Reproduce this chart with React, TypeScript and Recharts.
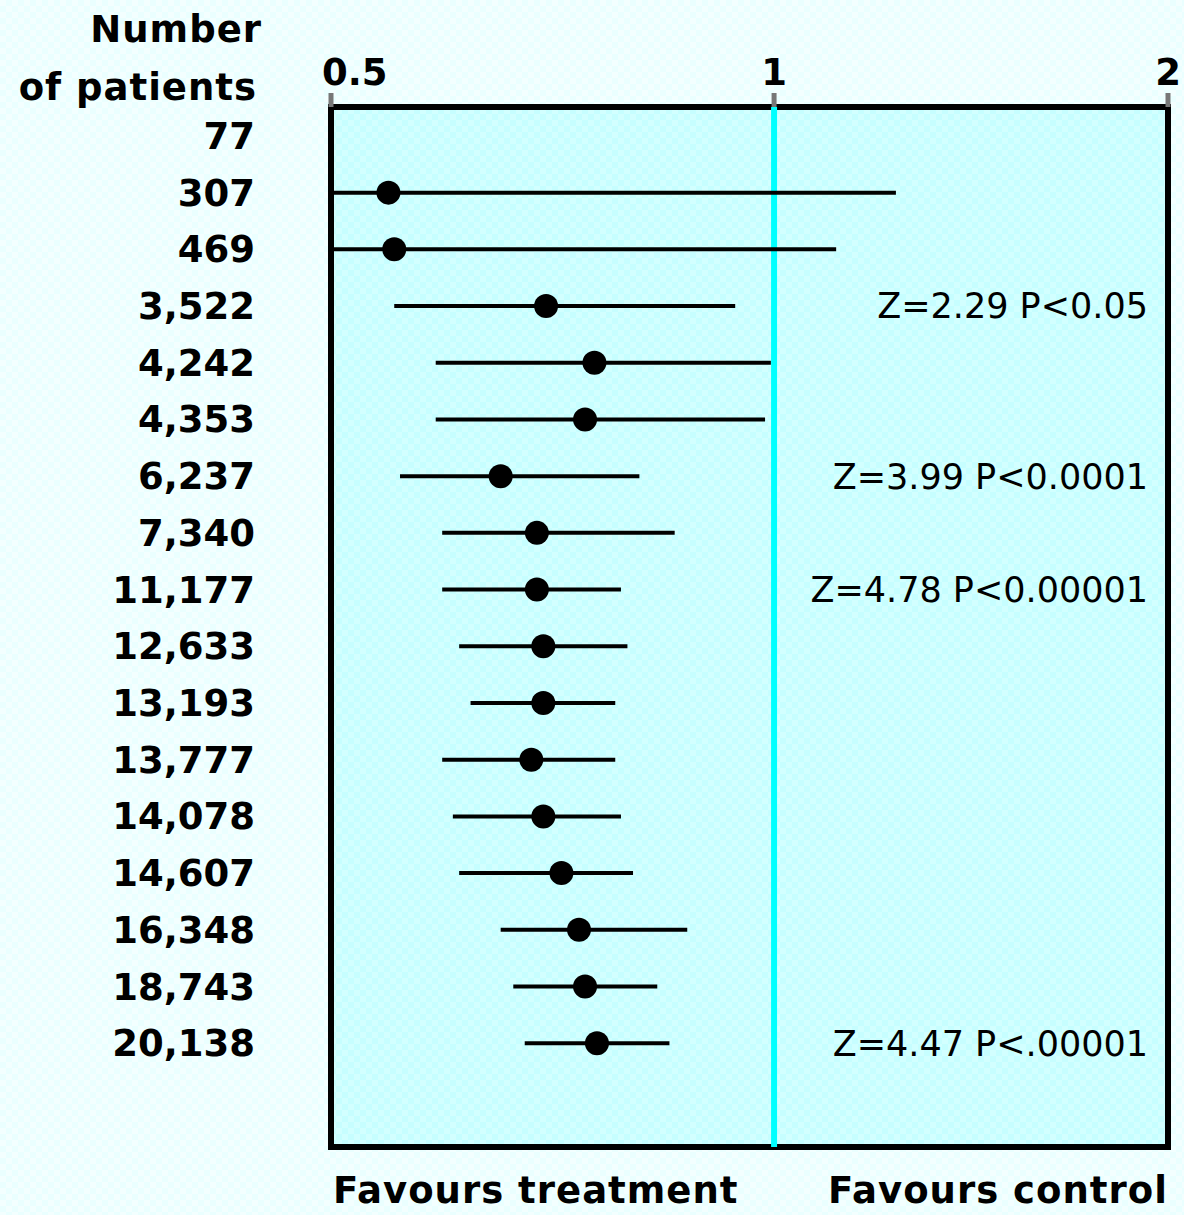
import React from "react";
import {
  ErrorBar,
  ReferenceArea,
  ReferenceLine,
  Scatter,
  ScatterChart,
  XAxis,
  YAxis,
} from "recharts";

// cumulative trials: number of patients per row, top to bottom
const patients = [
  "77", "307", "469", "3,522", "4,242", "4,353", "6,237", "7,340", "11,177",
  "12,633", "13,193", "13,777", "14,078", "14,607", "16,348", "18,743", "20,138",
];

// pooled odds ratio and 95% CI (null = not drawn)
const oddsRatio = [
  null, 0.547, 0.552, 0.7, 0.755, 0.744, 0.652, 0.69, 0.69,
  0.697, 0.697, 0.684, 0.697, 0.717, 0.737, 0.744, 0.758,
];
const ciLow = [
  null, 0.5, 0.5, 0.552, 0.589, 0.589, 0.557, 0.595, 0.595,
  0.611, 0.622, 0.595, 0.605, 0.611, 0.652, 0.665, 0.677,
];
const ciHigh = [
  null, 1.21, 1.102, 0.941, 0.995, 0.986, 0.81, 0.856, 0.787,
  0.795, 0.78, 0.78, 0.787, 0.802, 0.873, 0.833, 0.849,
];

// the printed scale is not quite symmetric: its right edge is labelled 2
const X_MIN = 0.5;
const X_MAX = 1.852;
const xTicks = [X_MIN, 1, X_MAX];
const xTickLabels = ["0.5", "1", "2"];
const Y_MIN = -0.51;
const Y_MAX = 17.83;

const annotations = [
  { row: "3,522", text: "Z=2.29 P<0.05" },
  { row: "6,237", text: "Z=3.99 P<0.0001" },
  { row: "11,177", text: "Z=4.78 P<0.00001" },
  { row: "20,138", text: "Z=4.47 P<.00001" },
];

const FONT = "'DejaVu Sans', sans-serif";

const points = oddsRatio
  .map((or, i) =>
    or == null
      ? null
      : { y: i, x: or, err: [or - (ciLow[i] as number), (ciHigh[i] as number) - or] }
  )
  .filter(Boolean);

function YTick(props: any) {
  const { x, y, payload } = props;
  return (
    <text x={x} y={y + 13} textAnchor="end" fontFamily={FONT} fontWeight="bold" fontSize={37} fill="#000">
      {patients[payload.value]}
    </text>
  );
}

function XTick(props: any) {
  const { x, index } = props;
  const first = index === 0;
  return (
    <text
      x={first ? x - 9 : x}
      y={85}
      textAnchor={first ? "start" : "middle"}
      fontFamily={FONT}
      fontWeight="bold"
      fontSize={37}
      fill="#000"
    >
      {xTickLabels[index]}
    </text>
  );
}

const labelStyle: React.CSSProperties = {
  position: "absolute",
  fontFamily: FONT,
  fontWeight: "bold",
  fontSize: 37,
  lineHeight: "37px",
  letterSpacing: 1,
  color: "#000",
  whiteSpace: "nowrap",
};

export default function App() {
  return (
    <div
      style={{
        position: "absolute",
        left: 0,
        top: 0,
        width: 1184,
        height: 1215,
        overflow: "hidden",
        background: "repeating-conic-gradient(#eaffff 0 25%, #f3ffff 0 50%) 0 0 / 12px 12px",
      }}
    >
      <div style={{ ...labelStyle, top: 11, left: 0, width: 262, textAlign: "right" }}>Number</div>
      <div style={{ ...labelStyle, top: 69, left: 0, width: 257, textAlign: "right" }}>of patients</div>
      <div style={{ ...labelStyle, top: 1172, left: 333 }}>Favours treatment</div>
      <div style={{ ...labelStyle, top: 1172, left: 828 }}>Favours control</div>

      <ScatterChart
        width={1184}
        height={1215}
        margin={{ top: 0, right: 16, bottom: 68, left: 0 }}
        style={{ position: "absolute", left: 0, top: 0 }}
      >
        <defs>
          <pattern id="plotChecker" width="12" height="12" patternUnits="userSpaceOnUse">
            <rect width="12" height="12" fill="#c6feff" />
            <rect width="6" height="6" fill="#d2ffff" />
            <rect x="6" y="6" width="6" height="6" fill="#d2ffff" />
          </pattern>
        </defs>
        <XAxis
          type="number"
          dataKey="x"
          orientation="top"
          scale="log"
          domain={[X_MIN, X_MAX]}
          allowDataOverflow
          ticks={xTicks}
          interval={0}
          height={107}
          axisLine={false}
          tickSize={14}
          tickLine={{ stroke: "#777", strokeWidth: 5 }}
          tick={<XTick />}
        />
        <YAxis
          type="number"
          dataKey="y"
          reversed
          domain={[Y_MIN, Y_MAX]}
          allowDataOverflow
          ticks={patients.map((_, i) => i)}
          interval={0}
          width={331}
          axisLine={false}
          tickLine={false}
          tickSize={0}
          tickMargin={76}
          tick={<YTick />}
        />
        <ReferenceArea
          x1={X_MIN}
          x2={X_MAX}
          y1={Y_MIN}
          y2={Y_MAX}
          fill="url(#plotChecker)"
          fillOpacity={1}
          stroke="none"
          ifOverflow="visible"
        />
        <ReferenceLine x={1} stroke="#00ffff" strokeWidth={6} />
        {annotations.map((a) => (
          <ReferenceLine
            key={a.text}
            y={patients.indexOf(a.row)}
            stroke="none"
            label={{
              value: a.text,
              position: "insideRight",
              offset: 20,
              fill: "#000",
              fontSize: 35,
              fontFamily: FONT,
            }}
          />
        ))}
        <Scatter
          data={points as any[]}
          isAnimationActive={false}
          shape={(p: any) => <circle cx={p.cx} cy={p.cy} r={12} fill="#000" />}
        >
          <ErrorBar dataKey="err" direction="x" width={0} stroke="#000" strokeWidth={4} />
        </Scatter>
        <ReferenceArea
          x1={X_MIN}
          x2={X_MAX}
          y1={Y_MIN}
          y2={Y_MAX}
          fill="none"
          stroke="#000"
          strokeWidth={6}
          ifOverflow="visible"
        />
      </ScatterChart>
    </div>
  );
}
